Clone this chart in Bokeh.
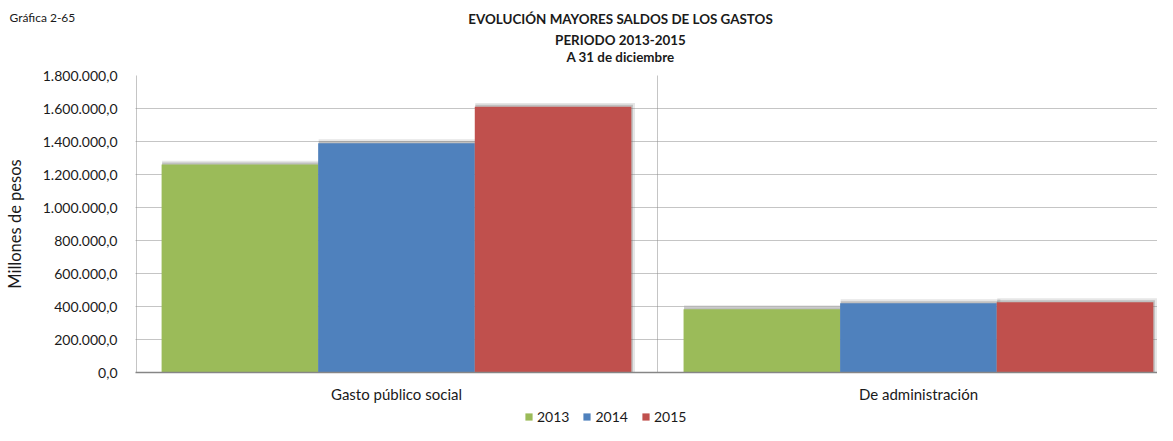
from bokeh.plotting import figure
from bokeh.layouts import column
from bokeh.models import (ColumnDataSource, Range1d, FixedTicker, Label, Legend,
                          LegendItem)
from bokeh.transform import dodge
from bokeh.embed import file_html
from bokeh.resources import INLINE

# ---- data ----
categories = ["Gasto público social", "De administración"]
cat_pos = [0, 1]
years = ["2013", "2014", "2015"]
v2013 = [1260000, 384000]
v2014 = [1390000, 420000]
v2015 = [1610000, 426000]
y_ticks = [0, 200000, 400000, 600000, 800000, 1000000, 1200000, 1400000, 1600000, 1800000]
y_tick_labels = ["0,0", "200.000,0", "400.000,0", "600.000,0", "800.000,0",
                 "1.000.000,0", "1.200.000,0", "1.400.000,0", "1.600.000,0", "1.800.000,0"]
colors = ["#9BBB59", "#4F81BD", "#C0504D"]
title_lines = ["EVOLUCIÓN MAYORES SALDOS DE LOS GASTOS", "PERIODO 2013-2015", "A 31 de diciembre"]
chart_id = "Gráfica 2-65"

FONT = "Lato"
TXT = "#1a1a1a"
W = 1157
HEAD_H = 67
MAIN_H = 338
FOOT_H = 20


def bare(fig):
    fig.outline_line_color = None
    fig.grid.visible = False
    try:
        fig.frame_align = False
    except Exception:
        pass
    return fig


# ---- header figure (titles) ----
head = bare(figure(width=W, height=HEAD_H, output_backend="svg", toolbar_location=None,
                   x_range=Range1d(0, 1), y_range=Range1d(0, 1),
                   x_axis_type=None, y_axis_type=None,
                   min_border_left=0, min_border_right=0, min_border_top=0, min_border_bottom=0))
head.add_layout(Label(x=9, y=HEAD_H - 17, x_units="screen", y_units="screen", text=chart_id,
                      text_font=FONT, text_font_size="12px", text_baseline="middle",
                      text_align="left", text_color=TXT))
for cy, txt in zip([18, 39, 56], title_lines):
    head.add_layout(Label(x=620, y=HEAD_H - cy, x_units="screen", y_units="screen", text=txt,
                          text_font=FONT, text_font_size="13.4px", text_font_style="bold",
                          text_baseline="middle", text_align="center", text_color=TXT))

# ---- main chart ----
src = ColumnDataSource(dict(x=cat_pos, v2013=v2013, v2014=v2014, v2015=v2015))

p = figure(width=W, height=MAIN_H, output_backend="svg", toolbar_location=None,
           x_range=Range1d(-0.5, 1.458), y_range=Range1d(0, 1800000),
           min_border_left=135, min_border_right=0, min_border_top=8, min_border_bottom=30)
p.outline_line_color = None
p.background_fill_color = "white"
p.border_fill_color = "white"
try:
    p.frame_align = False
except Exception:
    pass

# grids
p.ygrid.ticker = FixedTicker(ticks=y_ticks)
p.ygrid.grid_line_color = "#8a8a8a"
p.ygrid.grid_line_dash = "1 1"
p.xgrid.ticker = FixedTicker(ticks=[-0.499, 0.5, 1.5])
p.xgrid.grid_line_color = "#8a8a8a"
p.xgrid.grid_line_dash = "1 1"

# bars (with a soft drop shadow behind)
offsets = [-0.3, 0.0, 0.3]
fields = ["v2013", "v2014", "v2015"]
for off, fld in zip(offsets, fields):
    p.vbar(x=dodge("x", off + 0.004), top=dodge(fld, 24000), width=0.306, bottom=0,
           source=src, fill_color="#808080", fill_alpha=0.2, line_color=None)
    p.vbar(x=dodge("x", off + 0.002), top=dodge(fld, 12000), width=0.302, bottom=0,
           source=src, fill_color="#6a6a6a", fill_alpha=0.3, line_color=None)
for off, fld, col in zip(offsets, fields, colors):
    p.vbar(x=dodge("x", off), top=fld, width=0.3, bottom=0, source=src,
           fill_color=col, line_color=None)

# axes
yax = p.yaxis[0]
yax.ticker = FixedTicker(ticks=y_ticks)
yax.major_label_overrides = {t: s for t, s in zip(y_ticks, y_tick_labels)}
yax.axis_line_color = None
yax.major_tick_line_color = None
yax.minor_tick_line_color = None
yax.major_tick_out = 0
yax.major_tick_in = 0
yax.major_label_standoff = 18
yax.major_label_text_font = FONT
yax.major_label_text_font_size = "14px"
yax.major_label_text_color = TXT
yax.axis_label = "Millones de pesos"
yax.axis_label_text_font = FONT
yax.axis_label_text_font_size = "16.5px"
yax.axis_label_text_font_style = "normal"
yax.axis_label_text_color = TXT
yax.axis_label_standoff = 15

xax = p.xaxis[0]
xax.ticker = FixedTicker(ticks=cat_pos)
xax.major_label_overrides = {t: s for t, s in zip(cat_pos, categories)}
xax.axis_line_color = "#868686"
xax.axis_line_width = 1.5
xax.major_tick_line_color = None
xax.minor_tick_line_color = None
xax.major_tick_out = 0
xax.major_tick_in = 0
xax.major_label_standoff = 12
xax.major_label_text_font = FONT
xax.major_label_text_font_size = "15px"
xax.major_label_text_color = TXT

# ---- footer figure (legend); its bars have zero height so only the legend shows ----
foot = bare(figure(width=W, height=FOOT_H, output_backend="svg", toolbar_location=None,
                   x_range=Range1d(-0.5, 1.458), y_range=Range1d(0, 1800000),
                   x_axis_type=None, y_axis_type=None,
                   min_border_left=0, min_border_right=0, min_border_top=0, min_border_bottom=0))
legend_renderers = [foot.vbar(x=dodge("x", off), top=fld, bottom=fld, width=0.3, source=src,
                              fill_color=col, line_color=None)
                    for off, fld, col in zip(offsets, fields, colors)]
legend = Legend(items=[LegendItem(label=y, renderers=[r]) for y, r in zip(years, legend_renderers)],
                orientation="horizontal", location=(524, 0))
legend.border_line_color = None
legend.background_fill_alpha = 0
legend.padding = 0
legend.margin = 0
legend.spacing = 13
legend.glyph_width = 9
legend.glyph_height = 9
legend.label_standoff = 4
legend.label_text_font = FONT
legend.label_text_font_size = "14px"
legend.label_text_color = TXT
foot.add_layout(legend, "center")

layout = column(head, p, foot, spacing=0)
open("out.html", "w").write(file_html(layout, INLINE))
